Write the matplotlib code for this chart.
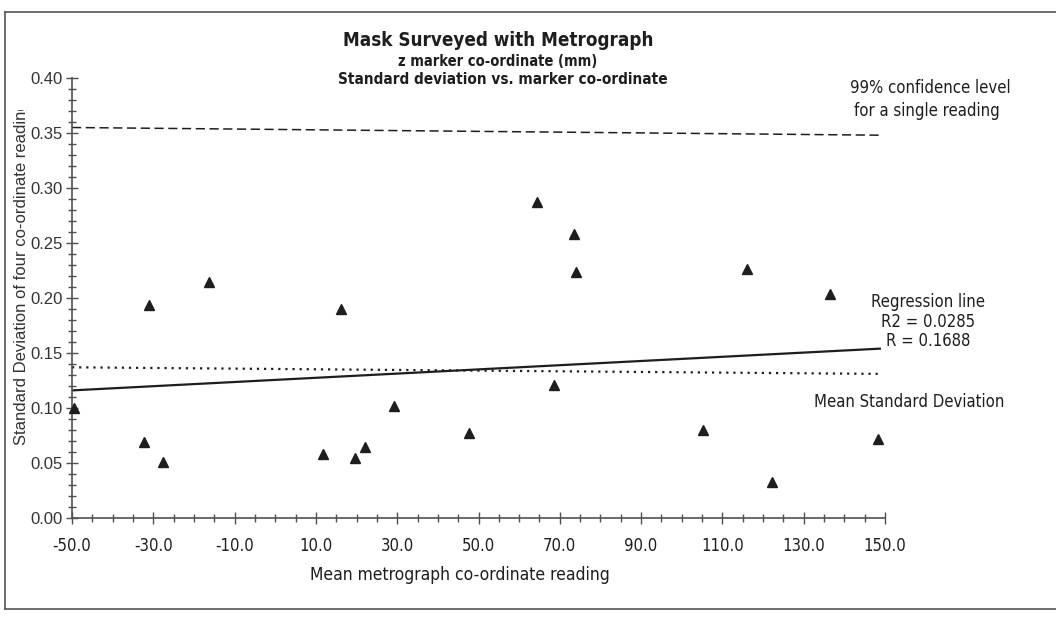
import os
import matplotlib
matplotlib.use("Agg")
import matplotlib.pyplot as plt
from matplotlib import font_manager as fm
from matplotlib.lines import Line2D
from matplotlib.ticker import MultipleLocator
from matplotlib.transforms import Bbox

# mean metrograph reading (mm) and std dev of the four readings per marker
mean_reading = [-49.5, -32.4, -31.1, -27.7, -16.2, 11.8, 16.1, 19.6, 22.2, 29.1,
                47.6, 64.4, 68.6, 73.5, 74.1, 105.3, 116.1, 122.2, 136.4, 148.4]
std_dev = [0.100, 0.069, 0.194, 0.051, 0.215, 0.058, 0.190, 0.055, 0.065, 0.102,
           0.077, 0.287, 0.121, 0.258, 0.224, 0.080, 0.226, 0.033, 0.204, 0.072]

# reference lines (end points)
regr_x = [-50, 149]
regr_y = [0.116, 0.154]
mean_sd_x = [-50, 149]
mean_sd_y = [0.137, 0.131]
conf99_x = [-50, 149]
conf99_y = [0.355, 0.348]

x_ticks = list(range(-50, 151, 20))
x_tick_labels = [f"{v:.1f}" for v in x_ticks]
y_ticks = [0.00, 0.05, 0.10, 0.15, 0.20, 0.25, 0.30, 0.35, 0.40]
y_tick_labels = [f"{v:.2f}" for v in y_ticks]


def find_font(candidates):
    by_name = {os.path.basename(f.fname): f.fname for f in fm.fontManager.ttflist}
    for c in candidates:
        if c in by_name:
            return by_name[c]
    return None


NARROW = find_font(["LiberationSansNarrow-Regular.ttf", "DejaVuSansCondensed.ttf",
                    "RobotoCondensed-Regular.ttf"])
NARROW_BOLD = find_font(["LiberationSansNarrow-Bold.ttf", "DejaVuSansCondensed-Bold.ttf",
                         "RobotoCondensed-Bold.ttf"])


def font(size, bold=False, narrow=True):
    path = NARROW_BOLD if bold else NARROW
    if narrow and path:
        return fm.FontProperties(fname=path, size=size)
    return fm.FontProperties(family=["Liberation Sans", "DejaVu Sans"], size=size,
                             weight="bold" if bold else "normal")


ink = "#1e1e1e"
axis_grey = "#505050"

W, H = 1056, 617
fig = plt.figure(figsize=(W / 100, H / 100), dpi=100)
fig.patch.set_facecolor("white")

# axes box: x=-50 at px 72, x=150 at px 885, y=0 at px 518, y=0.40 at px 78
ax = fig.add_axes([72 / W, 1 - 518 / H, (885 - 72) / W, (518 - 78) / H])
ax.set_xlim(-50, 150)
ax.set_ylim(0, 0.40)

ax.plot(mean_reading, std_dev, linestyle="none", marker="^", markersize=7,
        color=ink, clip_on=False, zorder=5)
ax.plot(regr_x, regr_y, color=ink, lw=1.6, solid_capstyle="butt")
ax.plot(mean_sd_x, mean_sd_y, color=ink, lw=1.6, linestyle=(0, (1, 2.2)))
ax.plot(conf99_x, conf99_y, color=ink, lw=1.1, linestyle=(0, (6, 3)))

for s in ["top", "right"]:
    ax.spines[s].set_visible(False)
for s in ["left", "bottom"]:
    ax.spines[s].set_color(axis_grey)
    ax.spines[s].set_linewidth(1.2)

ax.set_xticks(x_ticks)
ax.set_xticklabels(x_tick_labels, fontproperties=font(12), color=ink)
ax.set_yticks(y_ticks)
ax.set_yticklabels(y_tick_labels, fontproperties=font(12, narrow=False),
                   color="#333333")
ax.xaxis.set_minor_locator(MultipleLocator(5))
ax.yaxis.set_minor_locator(MultipleLocator(0.01))
ax.tick_params(axis="both", which="both", direction="inout", color=axis_grey,
               width=1.0)
ax.tick_params(axis="both", which="major", length=8)
ax.tick_params(axis="both", which="minor", length=6)
ax.tick_params(axis="x", which="major", pad=10)
ax.tick_params(axis="y", which="major", pad=3)

ax.set_xlabel("Mean metrograph co-ordinate reading", fontproperties=font(12.5),
              color=ink)
ax.xaxis.set_label_coords((460 - 72) / (885 - 72), -(575 - 518) / (518 - 78))
ax.xaxis.label.set_va("center")

# y label runs up through the tick labels and is cut off at the top
ylab = fig.text(22 / W, 1 - 445 / H, "Standard Deviation of four co-ordinate readings",
                rotation=90, ha="center", va="bottom",
                fontproperties=font(12, narrow=False), color="#333333")
ylab.set_clip_box(Bbox.from_extents(0, 0, W, H - 110))
ylab.set_clip_on(True)

# titles
fig.text(498 / W, 1 - 41 / H, "Mask Surveyed with Metrograph", ha="center",
         va="center", fontproperties=font(13.5, bold=True), color=ink)
fig.text(498 / W, 1 - 62 / H, "z marker co-ordinate (mm)", ha="center",
         va="center", fontproperties=font(10.5, bold=True), color=ink)
fig.text(503 / W, 1 - 80 / H, "Standard deviation vs. marker co-ordinate",
         ha="center", va="center", fontproperties=font(11, bold=True), color=ink)

# annotations on the right
fig.text(930 / W, 1 - 88 / H, "99% confidence level", ha="center", va="center",
         fontproperties=font(12), color=ink)
fig.text(927 / W, 1 - 111 / H, "for a single reading", ha="center", va="center",
         fontproperties=font(12), color=ink)
fig.text(928 / W, 1 - 302 / H, "Regression line", ha="center", va="center",
         fontproperties=font(12), color=ink)
fig.text(928 / W, 1 - 322 / H, "R2 = 0.0285", ha="center", va="center",
         fontproperties=font(12), color=ink)
fig.text(928 / W, 1 - 341 / H, "R = 0.1688", ha="center", va="center",
         fontproperties=font(12), color=ink)
fig.text(909 / W, 1 - 402 / H, "Mean Standard Deviation", ha="center",
         va="center", fontproperties=font(12), color=ink)

# chart frame (left, top and bottom edges)
frame = dict(color="#555555", lw=1.2, transform=fig.transFigure)
fig.add_artist(Line2D([5 / W, 1.0], [1 - 12 / H, 1 - 12 / H], **frame))
fig.add_artist(Line2D([5 / W, 5 / W], [1 - 12 / H, 1 - 609 / H], **frame))
fig.add_artist(Line2D([5 / W, 1.0], [1 - 609 / H, 1 - 609 / H], **frame))

fig.savefig("out.png", dpi=100, facecolor="white")
